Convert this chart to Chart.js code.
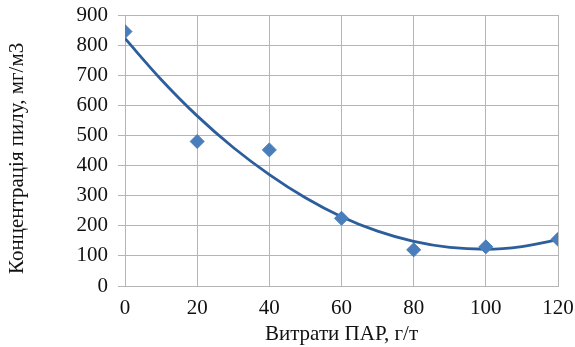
<!DOCTYPE html>
<html>
<head>
<meta charset="utf-8">
<script src="https://cdn.jsdelivr.net/npm/chart.js@4"></script>
<style>
html,body{margin:0;padding:0;background:#fff;}
#wrap{width:575px;height:347px;position:relative;}
</style>
</head>
<body>
<div id="wrap"><canvas id="c" width="575" height="347"></canvas></div>
<script>
// Measured points
const xValues = [0, 20, 40, 60, 80, 100, 120];
const yValues = [845, 480, 452, 225, 120, 130, 155];
// Trendline (polynomial)
const trendX = [0, 10, 20, 30, 40, 50, 60, 70, 80, 90, 100, 110, 120];
const trendY = [822, 686, 565, 460, 370, 293, 230, 182, 148, 128, 122, 131, 154];
const xTicks = [0, 20, 40, 60, 80, 100, 120];
const yTicks = [0, 100, 200, 300, 400, 500, 600, 700, 800, 900];
const xTitle = 'Витрати ПАР, г/т';
const yTitle = 'Концентрація пилу, мг/м3';

const font = {family: '"Liberation Serif", "Times New Roman", serif', size: 21};
const gridColor = '#b5b5b5';

new Chart(document.getElementById('c'), {
  type: 'scatter',
  data: {
    datasets: [
      {
        label: 'points',
        data: xValues.map((x, i) => ({x: x, y: yValues[i]})),
        pointStyle: 'rectRot',
        pointRadius: 7,
        pointBackgroundColor: '#4a7ebb',
        pointBorderColor: '#4a7ebb',
        showLine: false,
        order: 0
      },
      {
        label: 'trend',
        data: trendX.map((x, i) => ({x: x, y: trendY[i]})),
        showLine: true,
        borderColor: '#2d5e9c',
        borderWidth: 2.8,
        pointRadius: 0,
        cubicInterpolationMode: 'monotone',
        fill: false,
        order: 1
      }
    ]
  },
  options: {
    responsive: false,
    animation: false,
    layout: {padding: {top: 15, right: 17, left: 0, bottom: 0}},
    plugins: {legend: {display: false}, tooltip: {enabled: false}},
    scales: {
      x: {
        type: 'linear',
        min: 0, max: 120,
        afterBuildTicks: s => { s.ticks = xTicks.map(v => ({value: v})); },
        afterFit: s => { s.height = 61; s.paddingLeft = 0; s.paddingRight = 0; },
        ticks: {font: font, color: '#111', padding: 10},
        grid: {color: gridColor, drawTicks: false},
        border: {color: gridColor},
        title: {display: true, text: xTitle, font: font, color: '#111', padding: {top: 4, bottom: 0}}
      },
      y: {
        type: 'linear',
        min: 0, max: 900,
        afterBuildTicks: s => { s.ticks = yTicks.map(v => ({value: v})); },
        afterFit: s => { s.width = 125; s.paddingTop = 0; s.paddingBottom = 0; },
        ticks: {font: font, color: '#111', padding: 10},
        grid: {color: gridColor, tickLength: 7, tickColor: gridColor},
        border: {color: gridColor},
        title: {display: true, text: yTitle + '   ', font: font, color: '#111', padding: {top: 5, bottom: 0}}
      }
    }
  }
});
</script>
</body>
</html>
